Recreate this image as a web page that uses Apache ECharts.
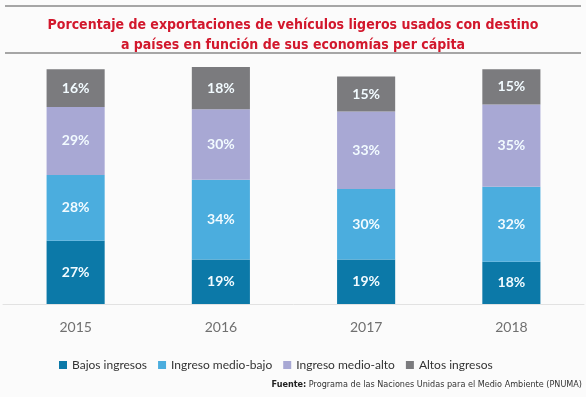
<!DOCTYPE html>
<html lang="es">
<head>
    <meta charset="UTF-8">
    <script src="https://cdn.jsdelivr.net/npm/echarts@6/dist/echarts.min.js"></script>
    <title>Exportaciones de vehículos ligeros usados</title>
    <style>
        html, body { margin: 0; padding: 0; background: #fbfbfb; }
        #chart { width: 586px; height: 397px; }
    </style>
</head>
<body>
<div id="chart"></div>
<script type="text/javascript">
    // datos
    var years = ['2015', '2016', '2017', '2018'];
    var bajos = [27, 19, 19, 18];
    var medioBajo = [28, 34, 30, 32];
    var medioAlto = [29, 30, 33, 35];
    var altos = [16, 18, 15, 15];

    var names = ['Bajos ingresos', 'Ingreso medio-bajo', 'Ingreso medio-alto', 'Altos ingresos'];
    var colors = ['#0c79a8', '#4badde', '#a8a8d4', '#7b7b7e'];
    var values = [bajos, medioBajo, medioAlto, altos];
    var narrow = '"DejaVu Sans Condensed", "Liberation Sans Narrow", sans-serif';

    var series = [];
    for (var i = 0; i < values.length; i++) {
        series.push({
            name: names[i],
            type: 'bar',
            stack: 'total',
            barWidth: '40%',
            data: values[i],
            itemStyle: { color: colors[i] },
            label: {
                show: true,
                position: 'inside',
                formatter: '{c}%',
                color: '#f2fbff',
                fontFamily: 'Lato',
                fontWeight: 'bold',
                fontSize: 14
            }
        });
    }

    var myChart = echarts.init(document.getElementById('chart'));
    var option = {
        backgroundColor: '#fbfbfb',
        animation: false,
        title: {
            text: 'Porcentaje de exportaciones de vehículos ligeros usados con destino\na países en función de sus economías per cápita',
            left: 'center',
            top: 10,
            textStyle: {
                color: '#d2172c',
                fontFamily: narrow,
                fontWeight: 'bold',
                fontSize: 14,
                lineHeight: 20
            }
        },
        graphic: [
            { type: 'line', shape: { x1: 5, y1: 6, x2: 581, y2: 6 }, style: { stroke: '#8a8a8a', lineWidth: 1.5 } },
            { type: 'line', shape: { x1: 5, y1: 53, x2: 581, y2: 53 }, style: { stroke: '#8a8a8a', lineWidth: 1.5 } },
            {
                type: 'text',
                right: 4,
                top: 380,
                style: {
                    text: '{b|Fuente:} Programa de las Naciones Unidas para el Medio Ambiente (PNUMA)',
                    rich: {
                        b: { fontWeight: 'bold', fontFamily: narrow, fontSize: 9, fill: '#222' }
                    },
                    font: '9px ' + narrow,
                    fill: '#333'
                }
            }
        ],
        legend: {
            data: names,
            top: 354,
            left: 54,
            itemWidth: 8,
            itemHeight: 8,
            itemGap: 11,
            icon: 'rect',
            textStyle: { fontFamily: 'Lato', fontSize: 12, color: '#333' }
        },
        grid: { left: 3, right: 2, top: 67, bottom: 93 },
        xAxis: {
            type: 'category',
            data: years,
            axisLine: { lineStyle: { color: '#e2e2e2' } },
            axisTick: { show: false },
            axisLabel: { color: '#707070', fontFamily: 'Lato', fontSize: 14, margin: 16 }
        },
        yAxis: {
            type: 'value',
            min: 0,
            max: 101,
            show: false,
            splitLine: { show: false }
        },
        series: series
    };
    myChart.setOption(option);
</script>
</body>
</html>
